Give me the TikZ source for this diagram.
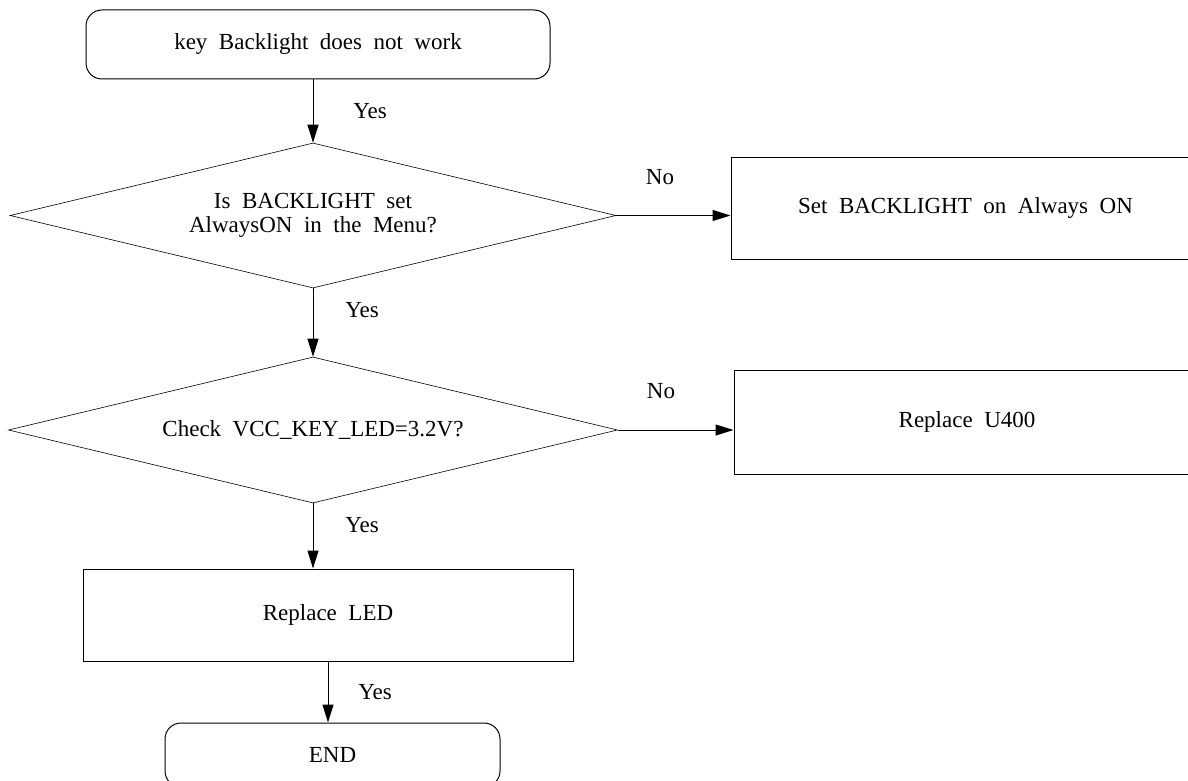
\documentclass[tikz,border=0pt]{standalone}
\usepackage{fontspec}
\setmainfont{Liberation Serif}
\usetikzlibrary{shapes.geometric,arrows.meta}
\begin{document}
\begin{tikzpicture}[x=1pt,y=-1pt,
  every node/.style={font=\fontsize{23}{24}\selectfont,execute at begin node={\spaceskip=0.5em plus 0.1em\relax}},
  box/.style={draw,line width=1pt,inner sep=0pt},
  rbox/.style={box,rounded corners=16pt},
  dec/.style={draw,shape=diamond,shape aspect=4.18,line width=0.6pt,inner sep=0pt,align=center},
  arr/.style={-{Triangle[length=18pt,width=11pt]},line width=1pt},
  lbl/.style={inner sep=0pt}]
\useasboundingbox (0,0) rectangle (1188,781);
\clip (0,0) rectangle (1188,781);
\node[rbox,minimum width=464pt,minimum height=69pt] (start) at (318,44.5) {key Backlight does not work};
\node[dec,minimum width=606pt,minimum height=145pt] (d1) at (313,215.5) {Is BACKLIGHT set\\AlwaysON in the Menu?};
\node[box,minimum width=469pt,minimum height=102pt] (set) at (965.5,208) {Set BACKLIGHT on Always ON};
\node[dec,minimum width=609pt,minimum height=146pt] (d2) at (313,430) {Check VCC\_KEY\_LED=3.2V?};
\node[box,minimum width=466pt,minimum height=104pt] (u400) at (967,422) {Replace U400};
\node[box,minimum width=490pt,minimum height=92pt] (led) at (328,615) {Replace LED};
\node[rbox,minimum width=335pt,minimum height=64pt] (end) at (332.5,755) {END};
\draw[arr] (start.south -| d1.north) -- (d1.north);
\draw[arr] (d1.east) -- (d1.east -| set.west);
\draw[arr] (d1.south) -- (d2.north);
\draw[arr] (d2.east) -- (d2.east -| u400.west);
\draw[arr] (d2.south) -- (d2.south |- led.north);
\draw[arr] (led.south) -- (led.south |- end.north);
\node[lbl] (y1) at (370,111) {Yes};
\node[lbl] (n1) at (660,177) {No};
\node[lbl] (y2) at (362,310) {Yes};
\node[lbl] (n2) at (661,391) {No};
\node[lbl] (y3) at (362,525) {Yes};
\node[lbl] (y4) at (375,692) {Yes};
\end{tikzpicture}
\end{document}
